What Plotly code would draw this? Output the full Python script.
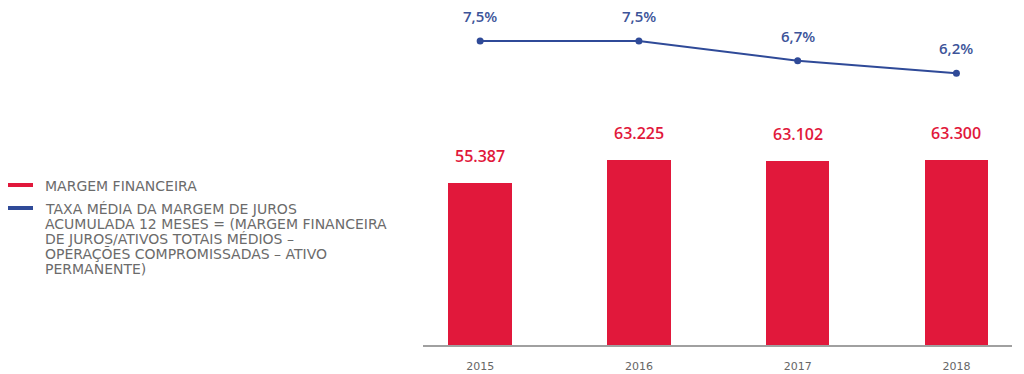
import plotly.graph_objects as go

# Annual figures
years = ["2015", "2016", "2017", "2018"]
margem_financeira = [55387, 63225, 63102, 63300]
taxa_media = [7.5, 7.5, 6.7, 6.2]

margem_labels = ["55.387", "63.225", "63.102", "63.300"]
taxa_labels = ["7,5%", "7,5%", "6,7%", "6,2%"]

RED = "#E1183B"
BLUE = "#2F4A98"
BLUE_TEXT = "#3D5499"
GREY_TEXT = "#6B6B6B"
FONT = "DejaVu Sans"
LABEL_FONT = "Open Sans"

fig = go.Figure()

fig.add_trace(go.Bar(
    x=years, y=margem_financeira, width=0.4,
    marker=dict(color=RED, line=dict(width=0)),
    showlegend=False, hoverinfo="skip",
))

fig.add_trace(go.Scatter(
    x=years, y=taxa_media, yaxis="y2", mode="lines+markers",
    line=dict(color=BLUE, width=2),
    marker=dict(color=BLUE, size=7),
    showlegend=False, hoverinfo="skip",
))

# Value labels (category axis positions given by index)
for i, (v, t) in enumerate(zip(margem_financeira, margem_labels)):
    fig.add_annotation(x=i, y=v, xref="x", yref="y", text=t, showarrow=False,
                       yshift=27,
                       font=dict(family=LABEL_FONT, size=16, color=RED, weight=600))
for i, (v, t) in enumerate(zip(taxa_media, taxa_labels)):
    fig.add_annotation(x=i, y=v, xref="x", yref="y2", text=t, showarrow=False,
                       yshift=25,
                       font=dict(family=LABEL_FONT, size=15, color=BLUE_TEXT, weight=600))

# Legend drawn at the left side, one annotation per text line
legend_items = [
    (RED, ["MARGEM FINANCEIRA"], 186),
    (BLUE, ["TAXA MÉDIA DA MARGEM DE JUROS",
            "ACUMULADA 12 MESES = (MARGEM FINANCEIRA",
            "DE JUROS/ATIVOS TOTAIS MÉDIOS –",
            "OPERAÇÕES COMPROMISSADAS – ATIVO",
            "PERMANENTE)"], 209),
]
LINE_STEP = 15
PLOT_LEFT, PLOT_W, PLOT_BOTTOM, PLOT_H = 423, 589, 345, 345
def px_x(px):
    return (px - PLOT_LEFT) / PLOT_W
def px_y(py):
    return (PLOT_BOTTOM - py) / PLOT_H

for color, lines, py in legend_items:
    fig.add_shape(type="line", xref="paper", yref="paper",
                  x0=px_x(8), x1=px_x(33), y0=px_y(py - 1), y1=px_y(py - 1),
                  line=dict(color=color, width=4))
    for k, line in enumerate(lines):
        fig.add_annotation(xref="paper", yref="paper", x=px_x(43),
                           y=px_y(py + k * LINE_STEP),
                           xanchor="left", yanchor="middle", align="left",
                           text=line, showarrow=False,
                           font=dict(family=FONT, size=14, color=GREY_TEXT))

hidden_axis = dict(showgrid=False, zeroline=False, showline=False,
                   showticklabels=False, ticks="", fixedrange=True)

fig.update_layout(
    width=1024, height=374,
    margin=dict(l=PLOT_LEFT, r=1024 - PLOT_LEFT - PLOT_W, t=0, b=29),
    paper_bgcolor="white", plot_bgcolor="white",
    xaxis=dict(type="category", range=[-0.36, 3.35], showgrid=False,
               zeroline=False, showline=True, linecolor="#A0A0A0", linewidth=2,
               ticks="", ticklabelstandoff=10,
               tickfont=dict(family=FONT, size=11, color="#666666")),
    yaxis=dict(range=[0, 118000], **hidden_axis),
    yaxis2=dict(range=[-4.76, 9.15], overlaying="y", side="right", **hidden_axis),
    bargap=0,
)

fig.write_html("out.html")
